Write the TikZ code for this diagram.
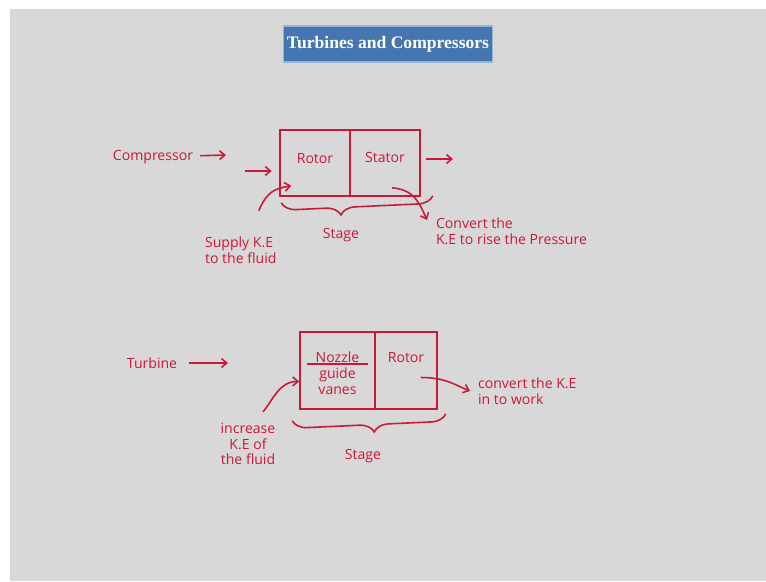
\documentclass[tikz,border=0pt]{standalone}
\usepackage{fontspec}
\setmainfont{Open Sans}
\newfontfamily\titlefont{Liberation Serif}
\usetikzlibrary{arrows.meta, positioning, calc, decorations.pathreplacing}
\definecolor{inkred}{RGB}{204,24,56}
\definecolor{slidegray}{RGB}{216,216,216}
\definecolor{titleblue}{RGB}{70,118,178}
\definecolor{titleedge}{RGB}{150,180,212}
\tikzset{
  hand/.style={font=\fontsize{8}{9}\selectfont, text=inkred, inner sep=1pt, align=left},
  cell/.style={rectangle, draw=inkred, line width=0.9pt, inner sep=0pt},
  inkarrow/.style={-{Straight Barb[length=3pt,width=5pt]}, line width=0.9pt, color=inkred},
  inkline/.style={line width=0.9pt, color=inkred},
  stagebrace/.style={inkline, decorate, decoration={brace, mirror, amplitude=8.5pt, aspect=#1}}
}

\begin{document}
\begin{tikzpicture}[x=0.02cm, y=-0.02cm]
  \useasboundingbox (0,0) rectangle (766,581);
  % slide background
  \fill[white] (0,0) rectangle (766,581);
  \fill[slidegray] (10,9) rectangle (766,581);

  % title bar
  \node[draw=titleedge, fill=titleblue, line width=1pt, minimum width=3.9cm,
    minimum height=0.72cm, inner xsep=2pt, text=white,
    font=\titlefont\bfseries\fontsize{10}{12}\selectfont] (title) at (388,44)
    {Turbines and Compressors};

  % ── Compressor stage ───────────────────────────────────────────────
  \node[cell, minimum width=1.4cm, minimum height=1.32cm] (crotor) at (315,163) {};
  \node[cell, minimum width=1.4cm, minimum height=1.32cm] (cstator) at (385,163) {};
  \node[hand, below=0.44cm of crotor.north] (crotortxt) {Rotor};
  \node[hand, below=0.42cm of cstator.north] (cstatortxt) {Stator};
  % name and flow arrows
  \node[hand] (comp) at (153,157) {Compressor};
  \coordinate (compend) at (226,155);
  \draw[inkarrow, shorten <=0.1cm] (comp) -- (compend);
  \coordinate (cin) at (245,171);
  \draw[inkarrow, shorten >=0.15cm] (cin) -- (crotor.west |- cin);
  \coordinate (cout) at (453,159);
  \draw[inkarrow, shorten <=0.1cm] (cstator.east |- cout) -- (cout);
  % stage brace
  \draw[stagebrace=0.39] ($(crotor.south west)+(2,6)$) -- ($(cstator.south east)+(12,-1)$);
  \node[hand] (cstage) at (341,235) {Stage};
  % notes
  \node[hand, anchor=west] (supply) at (203,250) {Supply K.E\\to the fluid};
  \draw[inkarrow] ($(supply.north)+(18,-24)$) .. controls +(8,-18) and +(-18,3) ..
    ($(crotor.south west)+(12,-11)$);
  \node[hand, anchor=west] (convert) at (434,231) {Convert the\\K.E to rise the Pressure};
  \draw[inkarrow] ($(cstator.south)+(7,-9)$) .. controls +(22,2) and +(-8,-18) ..
    ($(convert.west)+(-7,-11)$);

  % ── Turbine stage ──────────────────────────────────────────────────
  \node[cell, minimum width=1.5cm, minimum height=1.54cm] (tnozzle) at (337.5,370.5) {};
  \node[cell, minimum width=1.24cm, minimum height=1.54cm] (trotor) at (406,370.5) {};
  \node[hand, minimum width=1.22cm, align=center, below=0.36cm of tnozzle.north] (nozzletxt) {Nozzle};
  \draw[inkline] (nozzletxt.south west) -- (nozzletxt.south east);
  \node[hand, align=center, below=1pt of nozzletxt] (vanestxt) {guide\\vanes};
  \node[hand, below=0.38cm of trotor.north] (trotortxt) {Rotor};
  % name arrow
  \node[hand] (turb) at (152,363) {Turbine};
  \coordinate (turbend) at (228,363);
  \draw[inkarrow, shorten <=0.2cm] (turb) -- (turbend);
  % stage brace
  \draw[stagebrace=0.53] ($(tnozzle.south west)+(-7,11)$) -- ($(trotor.south east)+(8,4)$);
  \node[hand] (tstage) at (363,456) {Stage};
  % notes
  \node[hand, align=center] (increase) at (248,444) {increase\\K.E of\\the fluid};
  \draw[inkarrow] ($(increase.north)+(15,-9)$) .. controls +(10,-12) and +(-20,0) ..
    (tnozzle.west |- vanestxt);
  \node[hand, anchor=west] (work) at (476,391) {convert the K.E\\in to work};
  \draw[inkarrow] ($(trotor.east)+(-17,7)$) .. controls +(25,0) and +(-15,-6) ..
    ($(work.west)+(-6,0)$);
\end{tikzpicture}
\end{document}
